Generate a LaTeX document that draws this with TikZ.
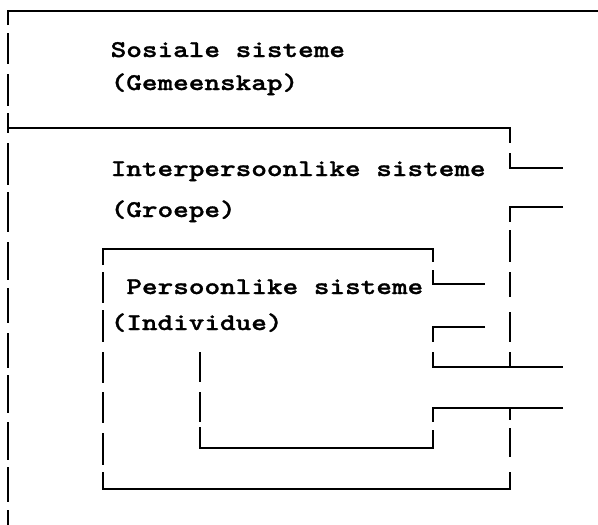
\documentclass[tikz,border=0pt]{standalone}
\usepackage{fontspec}
\newfontfamily\typewriter{lmmonolt10-bold.otf}[FakeStretch=1.24, FakeBold=1.2]
\begin{document}
\begin{tikzpicture}[x=1pt,y=-1pt,
  typedrule/.style={line width=2.2pt, line cap=butt, line join=miter},
  typedtext/.style={anchor=base west, inner sep=0pt,
    font=\typewriter\fontsize{24}{28}\selectfont}]
\useasboundingbox (0,0) rectangle (598,525);
\fill[white] (0,0) rectangle (598,525);

% ---- outer frame: social systems ----
\draw[typedrule] (8,25) -- (8,11) -- (598,11);
\foreach \a/\b in {33/64,74/106,113/133,143/185,192/232,242/280,288/323,
                   333/368,375/413,422/460,467/502,510/525}
  \draw[typedrule] (8,\a) -- (8,\b);

% ---- middle frame: interpersonal systems ----
\draw[typedrule] (8,128) -- (510,128) -- (510,143);
\draw[typedrule] (510,153) -- (510,168) -- (563,168);
\draw[typedrule] (563,207) -- (510,207) -- (510,222);
\foreach \a/\b in {230/262,272/297,312/342,352/367,407/420,428/457}
  \draw[typedrule] (510,\a) -- (510,\b);
\draw[typedrule] (510,472) -- (510,489) -- (103,489) -- (103,472);

% ---- inner frame: personal systems ----
\draw[typedrule] (103,265) -- (103,249) -- (433,249) -- (433,262);
\foreach \a/\b in {272/303,310/342,352/383,392/423,433/465}
  \draw[typedrule] (103,\a) -- (103,\b);
\draw[typedrule] (433,270) -- (433,284) -- (485,284);
\draw[typedrule] (485,327) -- (433,327) -- (433,342);
\draw[typedrule] (433,352) -- (433,367) -- (563,367);
\draw[typedrule] (563,408) -- (433,408) -- (433,422);
\draw[typedrule] (433,430) -- (433,448) -- (200,448) -- (200,427);
\foreach \a/\b in {352/382,392/422}
  \draw[typedrule] (200,\a) -- (200,\b);

% ---- labels ----
\node[typedtext] (sosiaal) at (110.5,57) {Sosiale sisteme};
\node[typedtext] (gemeenskap) at (110.5,90) {(Gemeenskap)};
\node[typedtext] (inter) at (110.5,176) {Interpersoonlike sisteme};
\node[typedtext] (groepe) at (110.5,217) {(Groepe)};
\node[typedtext] (persoon) at (126.2,294) {Persoonlike sisteme};
\node[typedtext] (individu) at (110.5,330) {(Individue)};
\end{tikzpicture}
\end{document}
